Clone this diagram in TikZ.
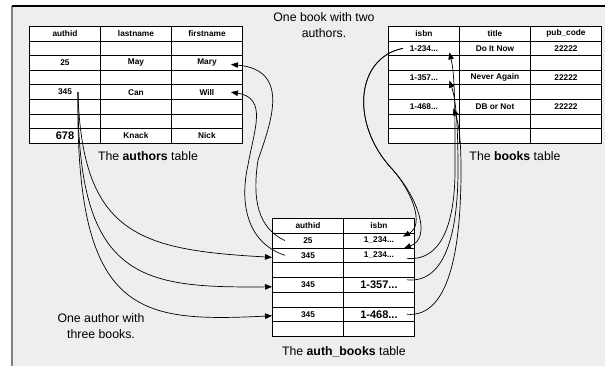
\documentclass[tikz,border=0pt]{standalone}
\usepackage{fontspec}
\setmainfont{Liberation Sans}
\usepackage{tikz}
\usetikzlibrary{arrows.meta,positioning}
\definecolor{paneBg}{HTML}{EEEEEE}
\definecolor{paneEdge}{HTML}{808080}
\newcommand{\cellfont}{\fontsize{8.3}{9}\selectfont\bfseries}
\newcommand{\bigcell}{\fontsize{11}{12}\selectfont}
\newcommand{\capfont}{\fontsize{12.3}{15.5}\selectfont}
\newcommand{\tdots}{...}

\begin{document}
\begin{tikzpicture}[
  x=1pt, y=-1pt,
  tcell/.style={draw, fill=white, line width=0.9pt, minimum width=71pt, minimum height=14.6pt, inner sep=0pt, anchor=north west, font=\cellfont},
  note/.style={align=center, font=\capfont},
  arr/.style={-{Triangle[length=7pt,width=5.5pt]}, line width=0.7pt}
]
\useasboundingbox (0,0) rectangle (605,366);

% Frame
\fill[paneBg] (12,6) rectangle (605,366);
\draw[paneEdge, line width=2pt] (12,6) -- (12,366);
\draw[line width=1.2pt] (12,6) -- (605,6);

% authors table
\foreach \r/\ca/\cb/\cc in {0/authid/lastname/firstname, 1/{}/{}/{}, 2/25/May/Mary, 3/{}/{}/{}, 4/345/Can/Will, 5/{}/{}/{}, 6/{}/{}/{}, 7/{\bigcell 678}/Knack/Nick}{
  \node[tcell] (au-\r-1) at (29,26+\r*14.6) {\ca};
  \node[tcell] (au-\r-2) at (100,26+\r*14.6) {\cb};
  \node[tcell] (au-\r-3) at (171,26+\r*14.6) {\cc};
}

% books table
\foreach \r/\ca/\cb/\cc in {0/isbn/title/pub\_code, 1/1-234\tdots/Do It Now/22222, 2/{}/{}/{}, 3/1-357\tdots/Never Again/22222, 4/{}/{}/{}, 5/1-468\tdots/DB or Not/22222, 6/{}/{}/{}, 7/{}/{}/{}}{
  \node[tcell] (bk-\r-1) at (388,26+\r*14.6) {\ca};
  \node[tcell] (bk-\r-2) at (459,26+\r*14.6) {\cb};
  \node[tcell] (bk-\r-3) at (530,26+\r*14.6) {\cc};
}

% auth_books table
\foreach \r/\ca/\cb in {0/authid/isbn, 1/25/1\_234\tdots, 2/345/1\_234\tdots, 3/{}/{}, 4/345/{\bigcell 1-357\tdots}, 5/{}/{}, 6/345/{\bigcell 1-468\tdots}, 7/{}/{}}{
  \node[tcell, minimum height=14.75pt] (ab-\r-1) at (272,218+\r*14.75) {\ca};
  \node[tcell, minimum height=14.75pt] (ab-\r-2) at (343,218+\r*14.75) {\cb};
}

% Captions
\node[note, below=4pt of au-7-2, xshift=12pt] (au-cap) {The \textbf{authors} table};
\node[note, below=4pt of bk-7-2, xshift=20pt] (bk-cap) {The \textbf{books} table};
\node[note, below=6pt of ab-7-1.south east] (ab-cap) {The \textbf{auth\_books} table};
\node[note] (bk-note) at (324,25) {One book with two\\authors.};
\node[note] (au-note) at (101,326) {One author with\\three books.};

% author -> auth_books
\draw[arr] ([xshift=13pt]au-4-1.center) .. controls (82,235) and (140,250) .. ([yshift=-2pt]ab-2-1.west);
\draw[arr] ([xshift=13pt]au-4-1.center) .. controls (77,280) and (140,288) .. ([yshift=-2pt]ab-4-1.west);
\draw[arr] ([xshift=13pt]au-4-1.center) .. controls (75,318) and (140,322) .. ([yshift=-1.5pt]ab-6-1.west);

% auth_books -> authors
\draw[arr] ([xshift=-23pt]ab-1-1.center) .. controls (258,228) and (252,200) .. (258,160)
  .. controls (272,120) and (290,70) .. ([xshift=24pt,yshift=-1.5pt]au-2-3.center);
\draw[arr] ([xshift=-23pt]ab-2-1.center) .. controls (245,242) and (240,200) .. (248,165)
  .. controls (254,130) and (268,98) .. ([xshift=24pt]au-4-3.center);

% books -> auth_books
\draw[arr] ([xshift=-21pt]bk-1-1.center) .. controls (355,58) and (350,125) .. (393,170)
  .. controls (412,192) and (425,225) .. ([xshift=24pt,yshift=4pt]ab-1-2.center);
\draw[arr] ([xshift=-21pt]bk-1-1.center) .. controls (355,58) and (350,125) .. (393,170)
  .. controls (418,198) and (432,238) .. ([xshift=25pt,yshift=7pt]ab-2-2.center);

% auth_books -> books
\draw[arr] ([xshift=28pt,yshift=-3pt]ab-2-2.center) .. controls (445,262) and (455,215) .. (455,170)
  .. controls (455,110) and (455,75) .. ([xshift=25.5pt,yshift=-4pt]bk-1-1.center);
\draw[arr] ([xshift=28pt,yshift=5pt]ab-4-2.center) .. controls (448,284) and (458,225) .. (458,170)
  .. controls (458,125) and (456,100) .. ([xshift=25.5pt,yshift=-3pt]bk-3-1.center);
\draw[arr] ([xshift=28pt]ab-6-2.center) .. controls (452,318) and (461,240) .. (461,170)
  .. controls (461,140) and (459,125) .. ([xshift=29.5pt,yshift=-1.5pt]bk-5-1.center);

\end{tikzpicture}
\end{document}
